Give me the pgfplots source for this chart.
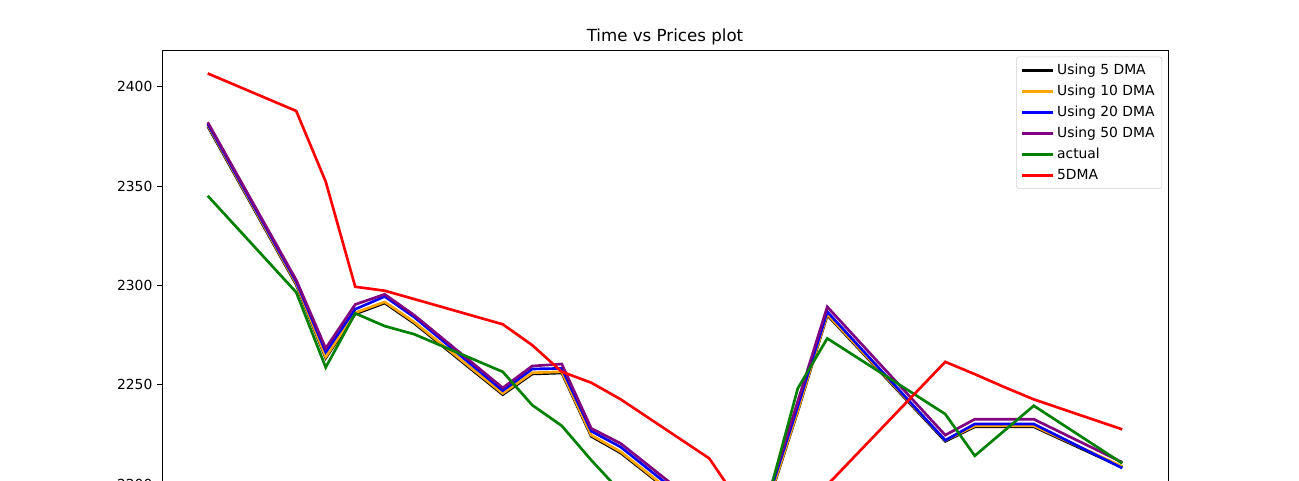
\documentclass[border=0pt]{standalone}
\usepackage{fontspec}
\setmainfont{DejaVu Sans}
\usepackage{pgfplots}
\pgfplotsset{compat=1.18}
\usepackage{pgfplotstable}

\definecolor{mplorange}{HTML}{FFA500}
\definecolor{mplpurple}{HTML}{800080}
\definecolor{mplgreen}{HTML}{008000}

% day index (trading days), predictions and actual prices
\pgfplotstableread{
day dmaA  dmaB   dmaC   dmaD   actual fivedma
0   2380.1 2380.7 2381.3 2382.1 2345.1 2406.7
3   2300.3 2300.9 2301.8 2302.7 2296.5 2387.8
4   2263.4 2264.0 2266.4 2268.3 2258.7 2352.2
5   2285.6 2286.2 2288.0 2290.4 2285.9 2299.3
6   2291.1 2291.7 2294.4 2295.5 2279.5 2297.3
7   2280.9 2281.5 2284.0 2285.0 2275.4 2293.1
10  2245.0 2245.6 2247.0 2248.4 2256.5 2280.4
11  2255.4 2256.0 2257.9 2259.4 2239.7 2269.9
12  2255.9 2256.5 2258.2 2260.4 2229.3 2256.5
13  2224.0 2224.6 2226.6 2228.0 2212.0 2251.0
14  2215.6 2216.2 2218.6 2220.4 2196.0 2242.6
17  2180.5 2181.0 2183.0 2185.0 2180.0 2212.9
18  2171.5 2172.0 2174.0 2175.0 2171.0 2191.0
19  2190.5 2191.0 2193.0 2194.4 2193.0 2185.0
20  2236.5 2237.0 2239.0 2241.6 2248.1 2190.0
21  2285.0 2285.5 2286.7 2289.2 2273.3 2199.5
25  2221.5 2222.0 2222.0 2224.6 2235.2 2261.5
26  2228.8 2229.3 2230.2 2232.6 2214.2 2255.3
27  2228.8 2229.3 2230.2 2232.6 2226.8 2248.8
28  2228.8 2229.3 2230.2 2232.6 2239.4 2242.6
31  2208.3 2208.8 2208.0 2210.9 2210.4 2227.5
}\prices

\begin{document}
\begin{tikzpicture}
\path[use as bounding box] (-121.5pt,-322.5pt) rectangle (852.75pt,37.5pt);
\clip (-121.5pt,-322.5pt) rectangle (852.75pt,37.5pt);
\begin{axis}[
    name=ax,
    at={(0,0)}, anchor=north west,
    scale only axis,
    width=754.5pt, height=381.2pt,
    xmin=-1.55, xmax=32.55,
    ymin=2162.6, ymax=2418.5,
    xtick=\empty,
    ytick={2200,2250,2300,2350,2400},
    ytick pos=left,
    tick align=outside,
    major tick length=3.7pt,
    tick style={black, line width=0.6pt},
    axis line style={line width=0.6pt},
    /pgf/number format/assume math mode=true,
    /pgf/number format/1000 sep={},
    yticklabel style={font=\fontsize{10.4}{12.5}\selectfont},
    legend style={
        at={(rel axis cs:1,1)}, anchor=north east,
        xshift=-4.4pt, yshift=-5pt,
        draw=black!18, fill=white, rounded corners=2pt,
        font=\fontsize{10.4}{12.5}\selectfont,
        inner xsep=3.5pt, inner ysep=3.5pt,
        row sep=2.35pt,
    },
    legend cell align=left,
    legend image code/.code={
        \draw[#1, line width=2pt] (0pt,0pt) -- (23pt,0pt);
    },
]
\addplot[black, line width=2pt] table[x=day, y=dmaA] {\prices};
\addlegendentry{Using 5 DMA}
\addplot[mplorange, line width=2pt] table[x=day, y=dmaB] {\prices};
\addlegendentry{Using 10 DMA}
\addplot[blue, line width=2pt] table[x=day, y=dmaC] {\prices};
\addlegendentry{Using 20 DMA}
\addplot[mplpurple, line width=2pt] table[x=day, y=dmaD] {\prices};
\addlegendentry{Using 50 DMA}
\addplot[mplgreen, line width=2pt] table[x=day, y=actual] {\prices};
\addlegendentry{actual}
\addplot[red, line width=2pt] table[x=day, y=fivedma] {\prices};
\addlegendentry{5DMA}
\end{axis}
\node[anchor=base, font=\fontsize{12.5}{15}\selectfont] at ([yshift=6.25pt]ax.north) {Time vs Prices plot};
\end{tikzpicture}
\end{document}
